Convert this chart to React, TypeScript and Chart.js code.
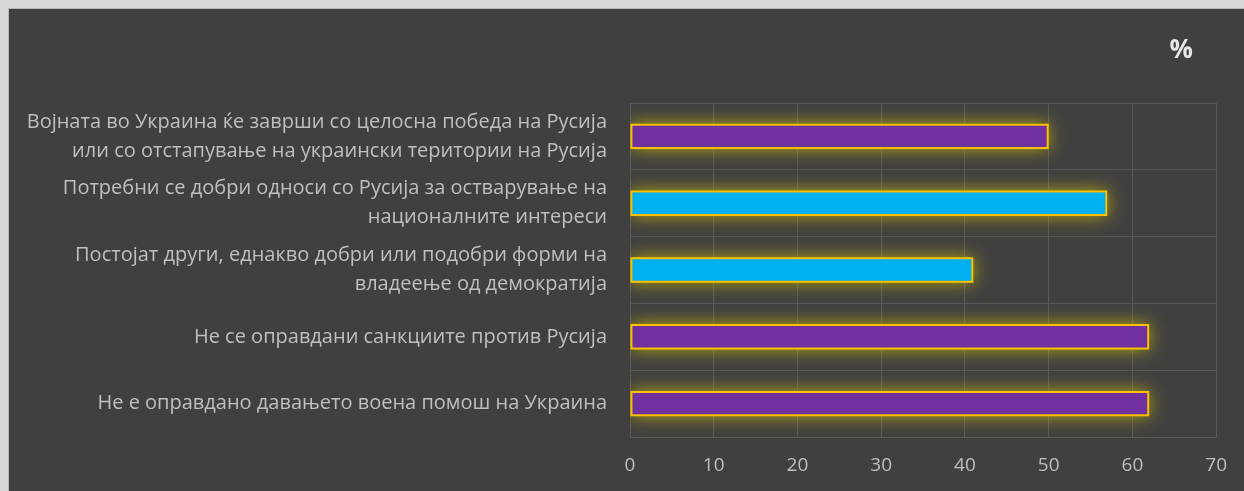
import React, { useEffect, useRef } from "react";
import { Chart, registerables } from "chart.js";

Chart.register(...registerables);

const categories: (string | string[])[] = [
  ["Војната во Украина ќе заврши со целосна победа на Русија", "или со отстапување на украински територии на Русија"],
  ["Потребни се добри односи со Русија за остварување на", "националните интереси"],
  ["Постојат други, еднакво добри или подобри форми на", "владеење од демократија"],
  "Не се оправдани санкциите против Русија",
  "Не е оправдано давањето воена помош на Украина",
];
const values: number[] = [50, 57, 41, 62, 62];
const barColors: string[] = ["#7030A0", "#00B0F0", "#00B0F0", "#7030A0", "#7030A0"];
const unitLabel = "%";
const xMin = 0;
const xMax = 70;
const xStep = 10;

const FONT = "'Open Sans', 'Noto Sans', sans-serif";

const glowPlugin = {
  id: "glow",
  beforeDatasetDraw(chart: any, args: any) {
    const ctx = chart.ctx;
    const ca = chart.chartArea;
    const meta = args.meta;
    ctx.save();
    ctx.beginPath();
    ctx.rect(ca.left, 0, chart.width - ca.left, chart.height);
    ctx.clip();
    ctx.shadowColor = "rgba(220, 200, 0, 0.75)";
    ctx.shadowBlur = 18;
    ctx.shadowOffsetX = 0;
    ctx.shadowOffsetY = 0;
    ctx.fillStyle = "rgba(200, 180, 0, 1)";
    meta.data.forEach((bar: any) => {
      const p = bar.getProps(["x", "y", "base", "height"], true);
      const left = Math.min(p.base, p.x);
      const right = Math.max(p.base, p.x);
      ctx.fillRect(left, p.y - p.height / 2, right - left, p.height);
    });
    ctx.restore();
  },
};

const unitPlugin = {
  id: "unitLabel",
  afterDraw(chart: any) {
    const ctx = chart.ctx;
    ctx.save();
    ctx.font = `bold 26px ${FONT}`;
    ctx.fillStyle = "#e6e6e6";
    ctx.textAlign = "center";
    ctx.textBaseline = "middle";
    ctx.fillText(unitLabel, chart.chartArea.right - 35, 42);
    ctx.restore();
  },
};

export default function App() {
  const canvasRef = useRef<HTMLCanvasElement | null>(null);

  useEffect(() => {
    if (!canvasRef.current) return;
    const chart = new Chart(canvasRef.current, {
      type: "bar",
      data: {
        labels: categories,
        datasets: [
          {
            data: values,
            backgroundColor: barColors,
            borderColor: "#FFC000",
            borderWidth: 2,
            borderSkipped: false,
            barPercentage: 0.38,
            categoryPercentage: 1,
          },
        ],
      },
      options: {
        indexAxis: "y",
        animation: false,
        responsive: true,
        maintainAspectRatio: false,
        layout: { padding: { top: 94, right: 25, bottom: 0, left: 0 } },
        plugins: {
          legend: { display: false },
          tooltip: { enabled: false },
          title: { display: false },
        },
        scales: {
          x: {
            min: xMin,
            max: xMax,
            ticks: {
              stepSize: xStep,
              color: "#bfbfbf",
              font: { family: FONT, size: 19 },
              padding: 17,
            },
            grid: { color: "#595959", lineWidth: 1, drawTicks: false },
            border: { display: true, color: "#595959" },
            afterFit(scale: any) {
              scale.height = 54;
            },
          },
          y: {
            ticks: {
              color: "#bfbfbf",
              font: { family: FONT, size: 20, lineHeight: 1.45 },
              padding: 23,
            },
            grid: { color: "#595959", lineWidth: 1, drawTicks: false, offset: true },
            border: { display: true, color: "#595959" },
            afterFit(scale: any) {
              scale.width = 621;
            },
          },
        },
      },
      plugins: [glowPlugin, unitPlugin],
    });
    return () => chart.destroy();
  }, []);

  return (
    <div style={{ position: "fixed", inset: 0, background: "#d9d9d9" }}>
      <div
        style={{
          position: "absolute",
          left: 8,
          top: 8,
          right: 0,
          bottom: 0,
          background: "#404040",
          borderLeft: "1px solid #b8b8b8",
          borderTop: "1px solid #b8b8b8",
        }}
      >
        <canvas ref={canvasRef} />
      </div>
    </div>
  );
}
